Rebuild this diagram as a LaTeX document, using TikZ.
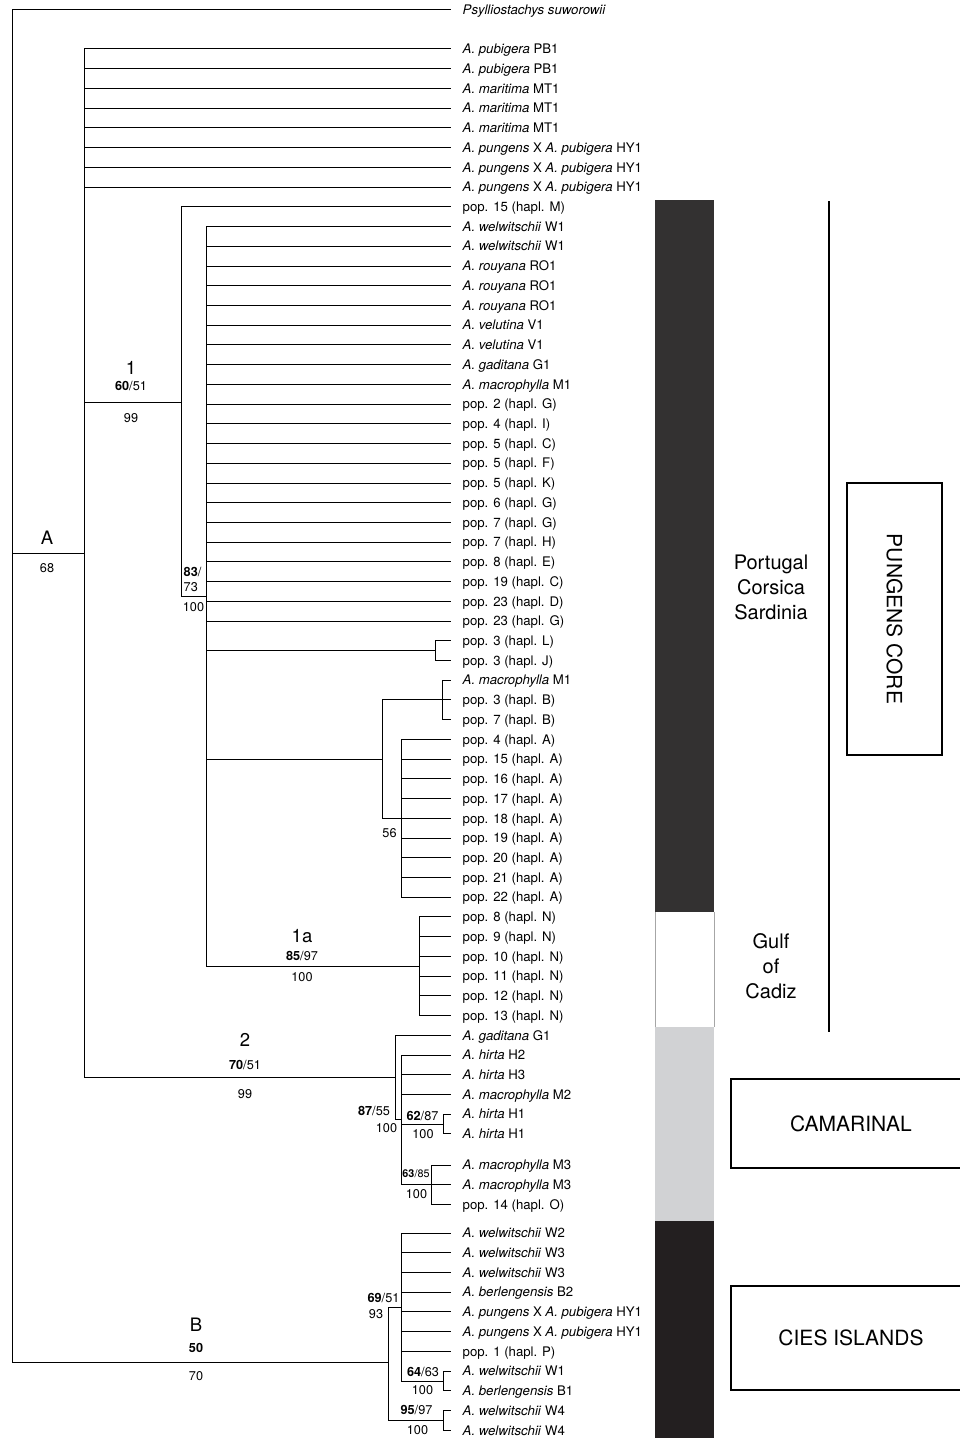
\documentclass[tikz,border=0pt]{standalone}
\usepackage{fontspec}
\setmainfont{TeX Gyre Heros}
\usetikzlibrary{positioning}
\definecolor{bardark}{RGB}{51, 49, 49}
\definecolor{barlight}{RGB}{209, 210, 212}
\definecolor{barblack}{RGB}{35, 31, 32}
\newcommand{\spname}[1]{\textit{#1}}

\begin{document}
\begin{tikzpicture}[
    x=1pt, y=-1pt,
    leaf/.style={
      anchor=west, inner xsep=12.5pt, inner ysep=0pt,
      text height=9.5pt, text depth=0pt,
      font=\fontsize{13.2}{15}\selectfont
    },
    branch/.style={line width=1pt, line cap=rect},
    clade/.style={inner sep=0pt, font=\fontsize{18.5}{20}\selectfont},
    supp/.style={inner sep=0pt, font=\fontsize{12.7}{14}\selectfont},
    suppsmall/.style={inner sep=0pt, font=\fontsize{10.8}{12}\selectfont},
    region/.style={align=center, font=\fontsize{20}{25}\selectfont},
    areabox/.style={
      draw, line width=1.3pt, inner sep=0pt,
      font=\fontsize{21}{24}\selectfont
    },
]
    \useasboundingbox (0,0) rectangle (959,1438);

    % Leaves
    \node[leaf] (psy) at (450,9.5) {\spname{Psylliostachys suworowii}};
    \node[leaf] (l1) at (450,48.95) {\spname{A. pubigera} PB1};
    \node[leaf] (l2) at (450,68.68) {\spname{A. pubigera} PB1};
    \node[leaf] (l3) at (450,88.41) {\spname{A. maritima} MT1};
    \node[leaf] (l4) at (450,108.1) {\spname{A. maritima} MT1};
    \node[leaf] (l5) at (450,127.9) {\spname{A. maritima} MT1};
    \node[leaf] (l6) at (450,147.6) {\spname{A. pungens} X \spname{A. pubigera} HY1};
    \node[leaf] (l7) at (450,167.3) {\spname{A. pungens} X \spname{A. pubigera} HY1};
    \node[leaf] (l8) at (450,187.0) {\spname{A. pungens} X \spname{A. pubigera} HY1};
    \node[leaf] (l9) at (450,206.8) {pop. 15 (hapl. M)};
    \node[leaf] (l10) at (450,226.5) {\spname{A. welwitschii} W1};
    \node[leaf] (l11) at (450,246.2) {\spname{A. welwitschii} W1};
    \node[leaf] (l12) at (450,266.0) {\spname{A. rouyana} RO1};
    \node[leaf] (l13) at (450,285.7) {\spname{A. rouyana} RO1};
    \node[leaf] (l14) at (450,305.4) {\spname{A. rouyana} RO1};
    \node[leaf] (l15) at (450,325.1) {\spname{A. velutina} V1};
    \node[leaf] (l16) at (450,344.9) {\spname{A. velutina} V1};
    \node[leaf] (l17) at (450,364.6) {\spname{A. gaditana} G1};
    \node[leaf] (l18) at (450,384.3) {\spname{A. macrophylla} M1};
    \node[leaf] (l19) at (450,404.0) {pop. 2 (hapl. G)};
    \node[leaf] (l20) at (450,423.8) {pop. 4 (hapl. I)};
    \node[leaf] (l21) at (450,443.5) {pop. 5 (hapl. C)};
    \node[leaf] (l22) at (450,463.2) {pop. 5 (hapl. F)};
    \node[leaf] (l23) at (450,483.0) {pop. 5 (hapl. K)};
    \node[leaf] (l24) at (450,502.7) {pop. 6 (hapl. G)};
    \node[leaf] (l25) at (450,522.4) {pop. 7 (hapl. G)};
    \node[leaf] (l26) at (450,542.1) {pop. 7 (hapl. H)};
    \node[leaf] (l27) at (450,561.9) {pop. 8 (hapl. E)};
    \node[leaf] (l28) at (450,581.6) {pop. 19 (hapl. C)};
    \node[leaf] (l29) at (450,601.3) {pop. 23 (hapl. D)};
    \node[leaf] (l30) at (450,621.0) {pop. 23 (hapl. G)};
    \node[leaf] (l31) at (450,640.8) {pop. 3 (hapl. L)};
    \node[leaf] (l32) at (450,660.5) {pop. 3 (hapl. J)};
    \node[leaf] (l33) at (450,680.2) {\spname{A. macrophylla} M1};
    \node[leaf] (l34) at (450,699.9) {pop. 3 (hapl. B)};
    \node[leaf] (l35) at (450,719.7) {pop. 7 (hapl. B)};
    \node[leaf] (l36) at (450,739.4) {pop. 4 (hapl. A)};
    \node[leaf] (l37) at (450,759.1) {pop. 15 (hapl. A)};
    \node[leaf] (l38) at (450,778.9) {pop. 16 (hapl. A)};
    \node[leaf] (l39) at (450,798.6) {pop. 17 (hapl. A)};
    \node[leaf] (l40) at (450,818.3) {pop. 18 (hapl. A)};
    \node[leaf] (l41) at (450,838.0) {pop. 19 (hapl. A)};
    \node[leaf] (l42) at (450,857.8) {pop. 20 (hapl. A)};
    \node[leaf] (l43) at (450,877.5) {pop. 21 (hapl. A)};
    \node[leaf] (l44) at (450,897.2) {pop. 22 (hapl. A)};
    \node[leaf] (l45) at (450,916.9) {pop. 8 (hapl. N)};
    \node[leaf] (l46) at (450,936.7) {pop. 9 (hapl. N)};
    \node[leaf] (l47) at (450,956.4) {pop. 10 (hapl. N)};
    \node[leaf] (l48) at (450,976.1) {pop. 11 (hapl. N)};
    \node[leaf] (l49) at (450,995.9) {pop. 12 (hapl. N)};
    \node[leaf] (l50) at (450,1015.6) {pop. 13 (hapl. N)};
    \node[leaf] (l51) at (450,1035.3) {\spname{A. gaditana} G1};
    \node[leaf] (l52) at (450,1055.0) {\spname{A. hirta} H2};
    \node[leaf] (l53) at (450,1074.8) {\spname{A. hirta} H3};
    \node[leaf] (l54) at (450,1094.5) {\spname{A. macrophylla} M2};
    \node[leaf] (l55) at (450,1114.2) {\spname{A. hirta} H1};
    \node[leaf] (l56) at (450,1133.9) {\spname{A. hirta} H1};
    \node[leaf] (l57) at (450,1165.0) {\spname{A. macrophylla} M3};
    \node[leaf] (l58) at (450,1184.7) {\spname{A. macrophylla} M3};
    \node[leaf] (l59) at (450,1204.5) {pop. 14 (hapl. O)};
    \node[leaf] (l60) at (450,1233.0) {\spname{A. welwitschii} W2};
    \node[leaf] (l61) at (450,1252.7) {\spname{A. welwitschii} W3};
    \node[leaf] (l62) at (450,1272.5) {\spname{A. welwitschii} W3};
    \node[leaf] (l63) at (450,1292.2) {\spname{A. berlengensis} B2};
    \node[leaf] (l64) at (450,1311.9) {\spname{A. pungens} X \spname{A. pubigera} HY1};
    \node[leaf] (l65) at (450,1331.6) {\spname{A. pungens} X \spname{A. pubigera} HY1};
    \node[leaf] (l66) at (450,1351.4) {pop. 1 (hapl. P)};
    \node[leaf] (l67) at (450,1371.1) {\spname{A. welwitschii} W1};
    \node[leaf] (l68) at (450,1390.8) {\spname{A. berlengensis} B1};
    \node[leaf] (l69) at (450,1410.5) {\spname{A. welwitschii} W4};
    \node[leaf] (l70) at (450,1430.3) {\spname{A. welwitschii} W4};

    % Internal nodes
    \coordinate (root) at (12,9.5);
    \coordinate (nA) at (84,553);
    \coordinate (n1) at (181,402);
    \coordinate (n1s) at (206,596);
    \coordinate (nLJ) at (435,650.6);
    \coordinate (nBig) at (382,759.1);
    \coordinate (nMB) at (442,699.9);
    \coordinate (nAA) at (401,818.3);
    \coordinate (n1a) at (419,966.2);
    \coordinate (n2) at (395,1077);
    \coordinate (n2s) at (401,1119);
    \coordinate (nH1) at (443,1124);
    \coordinate (nM3) at (431,1184.7);
    \coordinate (nB) at (388,1362.5);
    \coordinate (nBs) at (401,1307);
    \coordinate (nW1) at (443,1381);
    \coordinate (nW4) at (443,1420.4);

    % Branches
    \draw[branch] (root) |- (psy.west);
    \draw[branch] (root) |- (nA);
    \draw[branch] (root) |- (nB);
    \foreach \i in {1,...,8} \draw[branch] (nA) |- (l\i.west);
    \draw[branch] (nA) |- (n1);
    \draw[branch] (nA) |- (n2);
    \draw[branch] (n1) |- (l9.west);
    \draw[branch] (n1) |- (n1s);
    \foreach \i in {10,...,30} \draw[branch] (n1s) |- (l\i.west);
    \draw[branch] (n1s) |- (nLJ);
    \draw[branch] (n1s) |- (nBig);
    \draw[branch] (n1s) |- (n1a);
    \foreach \i in {31,32} \draw[branch] (nLJ) |- (l\i.west);
    \draw[branch] (nBig) |- (nMB);
    \draw[branch] (nBig) |- (nAA);
    \foreach \i in {33,34,35} \draw[branch] (nMB) |- (l\i.west);
    \foreach \i in {36,...,44} \draw[branch] (nAA) |- (l\i.west);
    \foreach \i in {45,...,50} \draw[branch] (n1a) |- (l\i.west);
    \draw[branch] (n2) |- (l51.west);
    \draw[branch] (n2) |- (n2s);
    \foreach \i in {52,53,54} \draw[branch] (n2s) |- (l\i.west);
    \draw[branch] (n2s) |- (nH1);
    \draw[branch] (n2s) |- (nM3);
    \foreach \i in {55,56} \draw[branch] (nH1) |- (l\i.west);
    \foreach \i in {57,58,59} \draw[branch] (nM3) |- (l\i.west);
    \draw[branch] (nB) |- (nBs);
    \draw[branch] (nB) |- (nW4);
    \foreach \i in {60,...,66} \draw[branch] (nBs) |- (l\i.west);
    \draw[branch] (nBs) |- (nW1);
    \foreach \i in {67,68} \draw[branch] (nW1) |- (l\i.west);
    \foreach \i in {69,70} \draw[branch] (nW4) |- (l\i.west);

    % Clade names and support values
    \node[clade] (labA) at (47,538) {A};
    \node[supp] (bsA) at (47,568) {68};
    \node[clade] (lab1) at (131,368) {1};
    \node[supp] (ml1) at (131,386) {\textbf{60}/51};
    \node[supp] (bs1) at (131,418) {99};
    \node[supp, anchor=west] (ml1s) at (183.5,572) {\textbf{83}/};
    \node[supp, anchor=west] (mp1s) at (183.5,587) {73};
    \node[supp] (bs1s) at (193.5,607) {100};
    \node[supp] (bsAA) at (389.5,833) {56};
    \node[clade] (lab1a) at (302,936) {1a};
    \node[supp] (ml1a) at (302,956) {\textbf{85}/97};
    \node[supp] (bs1a) at (302,977) {100};
    \node[clade] (lab2) at (245,1040) {2};
    \node[supp] (ml2) at (245,1065) {\textbf{70}/51};
    \node[supp] (bs2) at (245,1094) {99};
    \node[supp] (ml2s) at (374,1111) {\textbf{87}/55};
    \node[supp] (bs2s) at (386.5,1128) {100};
    \node[supp] (mlH1) at (422.5,1116) {\textbf{62}/87};
    \node[supp] (bsH1) at (423,1134) {100};
    \node[suppsmall] (mlM3) at (416,1174) {\textbf{63}/85};
    \node[supp] (bsM3) at (416.5,1194) {100};
    \node[clade] (labB) at (196,1325) {B};
    \node[supp] (mlB) at (196,1348) {\textbf{50}};
    \node[supp] (bsB) at (196,1376) {70};
    \node[supp] (mlBs) at (383.5,1298) {\textbf{69}/51};
    \node[supp] (bsBs) at (376,1314) {93};
    \node[supp] (mlW1) at (423,1372) {\textbf{64}/63};
    \node[supp] (bsW1) at (422.5,1390) {100};
    \node[supp] (mlW4) at (416.5,1410) {\textbf{95}/97};
    \node[supp] (bsW4) at (417.5,1430) {100};

    % Geographic bar
    \fill[bardark] (655,200) rectangle (714,912);
    \draw[black!35, line width=0.6pt] (655,912) -- (655,1027) (714,912) -- (714,1027);
    \fill[barlight] (655,1027) rectangle (714,1221);
    \fill[barblack] (655,1221) rectangle (714,1438);

    % Regions
    \node[region] (portugal) at (771,587) {Portugal\\Corsica\\Sardinia};
    \node[region] (gulf) at (771,966) {Gulf\\of\\Cadiz};
    \coordinate (coretop) at (829,201);
    \coordinate (corebot) at (829,1032);
    \draw[line width=1.2pt] (coretop) -- (corebot);
    \node[areabox, minimum width=95pt, minimum height=272pt] (core) at (894.5,619)
      {\rotatebox{-90}{PUNGENS CORE}};
    \node[areabox, minimum width=240pt, minimum height=89pt] (camarinal) at (851,1123.5)
      {CAMARINAL};
    \node[areabox, minimum width=240pt, minimum height=104pt] (cies) at (851,1338)
      {CIES ISLANDS};
\end{tikzpicture}
\end{document}
